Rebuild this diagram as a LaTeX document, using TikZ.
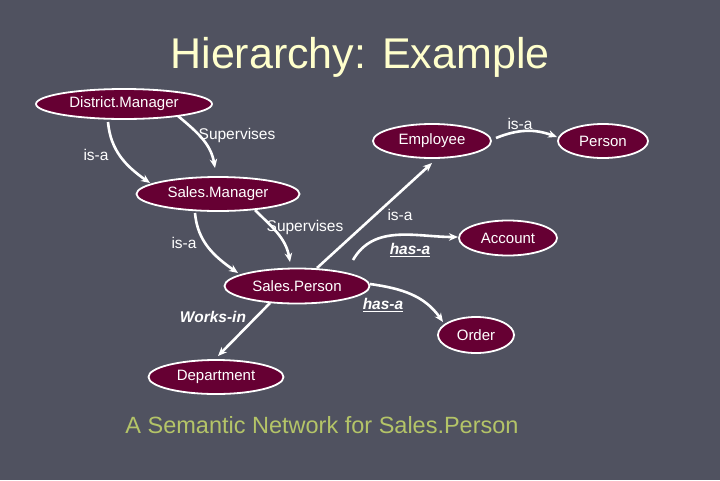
\documentclass[tikz,border=0pt]{standalone}
\usepackage{fontspec}
\setmainfont{Liberation Sans}
\usetikzlibrary{shapes.geometric,arrows.meta,calc}
\definecolor{bgc}{RGB}{80,82,96}
\definecolor{conceptfill}{RGB}{102,0,51}
\definecolor{titlec}{RGB}{255,255,204}
\definecolor{capc}{RGB}{180,196,104}
\begin{document}
\begin{tikzpicture}[x=1pt,y=-1pt,
  concept/.style={ellipse,draw=white,line width=1.8pt,fill=conceptfill,text=white,inner sep=0pt,font=\fontsize{15}{18}\selectfont},
  rel/.style={draw=white,line width=2.6pt,-{Stealth[length=9pt,width=7.5pt]}},
  lab/.style={text=white,font=\fontsize{15.5}{18}\selectfont,inner sep=0pt},
  labbold/.style={text=white,font=\fontsize{15.5}{18}\selectfont\bfseries\itshape,inner sep=0pt}]
\fill[bgc] (0,0) rectangle (720,480);
\useasboundingbox (0,0) rectangle (720,480);

\node[text=titlec,font=\fontsize{43}{50}\selectfont] (title) at (360,57) {Hierarchy: Example};
\node[text=capc,font=\fontsize{23.5}{28}\selectfont] (caption) at (322,425) {A Semantic Network for Sales.Person};

\node[concept,minimum width=176pt,minimum height=30pt] (dm) at (124,104) {District.Manager};
\node[concept,minimum width=163pt,minimum height=34pt] (sm) at (218,194) {Sales.Manager};
\node[concept,minimum width=118pt,minimum height=34pt] (emp) at (432,141) {Employee};
\node[concept,minimum width=90pt,minimum height=34pt] (per) at (603,141) {Person};
\node[concept,minimum width=98pt,minimum height=35pt] (acc) at (508,238) {Account};
\node[concept,minimum width=145pt,minimum height=35pt] (sp) at (297,286) {Sales.Person};
\node[concept,minimum width=76pt,minimum height=36pt] (ord) at (476,335) {Order};
\node[concept,minimum width=135pt,minimum height=34pt] (dep) at (216,377) {Department};

\coordinate (hasastart) at (353,260);

\draw[rel] ($(dm)+(-16,18)$) to[out=-85,in=145] ($(sm)+(-68,-11)$);
\draw[rel] ($(dm)+(54,12)$) to[out=-40,in=100] ($(sm)+(-3,-26)$);
\draw[rel] ($(sm)+(-23,19)$) to[out=-85,in=145] ($(sp)+(-59,-13)$);
\draw[rel] ($(sm)+(37,16)$) to[out=-45,in=100] ($(sp)+(-7,-24)$);
\draw[rel] ($(sp)+(20,-18)$) -- ($(emp)+(0,22)$);
\draw[rel] (hasastart) to[out=60,in=180] ($(acc)+(-50,-1)$);
\draw[rel] ($(sp)+(73,-2)$) to[out=-8,in=125] ($(ord)+(-33,-13)$);
\draw[rel] ($(emp)+(64,-3)$) to[out=22,in=160] ($(per)+(-46,-4)$);
\draw[rel] ($(sp)+(-27,17)$) -- ($(dep)+(2,-21)$);

\node[lab] (l1) at (96,155) {is-a};
\node[lab] (l2) at (237,135) {Supervises};
\node[lab] (l3) at (184,243) {is-a};
\node[lab] (l4) at (305,227) {Supervises};
\node[lab] (l5) at (400,215) {is-a};
\node[labbold] (l6) at (410,250) {\underline{has-a}};
\node[labbold] (l7) at (383,305) {\underline{has-a}};
\node[labbold] (l8) at (213,317) {Works-in};
\node[lab] (l9) at (520,124) {is-a};
\end{tikzpicture}
\end{document}
